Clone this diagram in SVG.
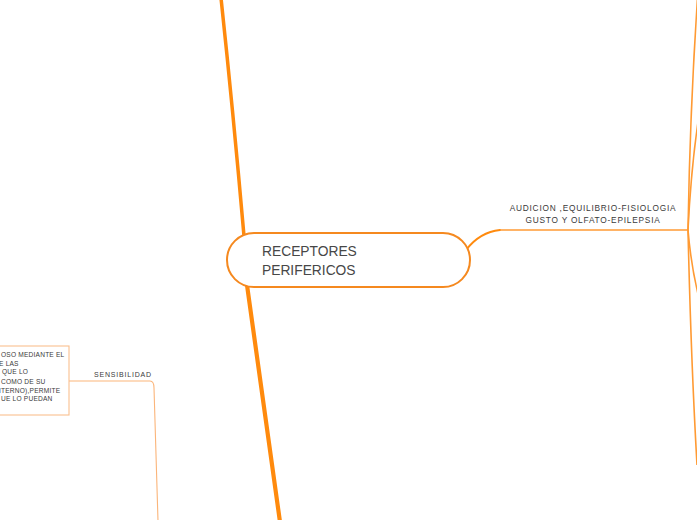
<svg xmlns="http://www.w3.org/2000/svg" width="697" height="520" viewBox="0 0 697 520">
  <style>
    .main { fill: none; stroke: #ff8a0d; stroke-linecap: round; }
    .sub { fill: none; stroke: #ff9a33; stroke-width: 1.6; }
    .thin { fill: none; stroke: #fbb57a; stroke-width: 1.1; }
    .lbl { font-family: "Liberation Sans", Arial, sans-serif; fill: #3a3a3a; }
    .ctr { font-family: "Liberation Sans", Arial, sans-serif; font-size: 13.8px; fill: #474747; }
  </style>
  <rect width="697" height="520" fill="#ffffff"/>
  <g id="connectors">
    <path class="main" stroke-width="3.5" d="M221,-2 Q233,110 244,236"/>
    <path class="main" stroke-width="4.2" d="M247,285 Q263,400 280,522"/>
    <path class="main" stroke-width="2" d="M466,250 Q480,232 500,230"/>
    <path class="sub" d="M500,230 L688,230"/>
    <path class="sub" stroke-width="2" d="M688,230 Q690,110 697.5,-2"/>
    <path class="sub" stroke-width="1.8" d="M688,230 Q691,170 698,122"/>
    <path class="sub" stroke-width="1.8" d="M688,230 Q691,265 698,294"/>
    <path class="sub" stroke-width="1.8" d="M688,230 Q691,360 697,465"/>
    <path class="thin" d="M69,381 L150,381 Q154,381 154,388 L158,521"/>
  </g>
  <g id="node-center">
    <rect x="227" y="233" width="243" height="54" rx="27" ry="27" fill="#ffffff" stroke="#f5891f" stroke-width="2"/>
    <text class="ctr" x="262" y="256">RECEPTORES</text>
    <text class="ctr" x="262" y="275">PERIFERICOS</text>
  </g>
  <g id="node-audicion">
    <text class="lbl" font-size="8.3" letter-spacing="0.78" text-anchor="middle" x="593" y="211">AUDICION ,EQUILIBRIO-FISIOLOGIA</text>
    <text class="lbl" font-size="8.3" letter-spacing="0.78" text-anchor="middle" x="593" y="223">GUSTO Y OLFATO-EPILEPSIA</text>
  </g>
  <g id="node-sensibilidad">
    <text class="lbl" font-size="7" letter-spacing="0.8" x="94" y="377">SENSIBILIDAD</text>
  </g>
  <g id="node-box">
    <rect x="-10" y="346" width="79" height="69" fill="#ffffff" stroke="#f9c08f" stroke-width="1.1"/>
    <g class="lbl" font-size="6.6" letter-spacing="0.2">
      <text x="1" y="357">OSO MEDIANTE EL</text>
      <text x="-1" y="366">E LAS</text>
      <text x="2" y="374">QUE LO</text>
      <text x="1" y="384">COMO DE SU</text>
      <text x="-1" y="393">ITERNO),PERMITE</text>
      <text x="1" y="401">UE LO PUEDAN</text>
    </g>
  </g>
</svg>
